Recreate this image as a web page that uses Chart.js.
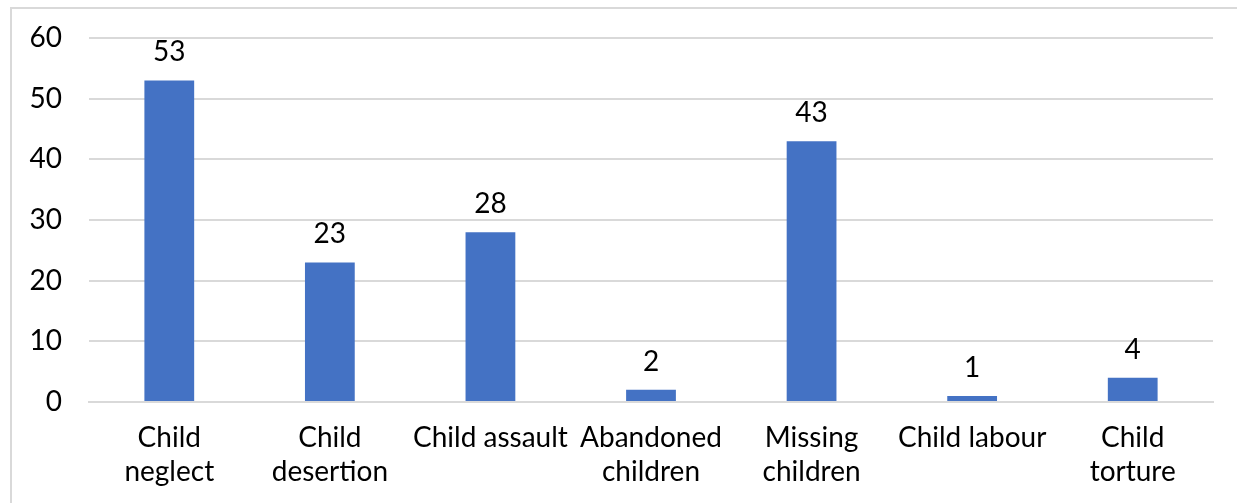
<!DOCTYPE html>
<html>
<head>
<meta charset="utf-8">
<script src="https://cdn.jsdelivr.net/npm/chart.js@4/dist/chart.umd.min.js"></script>
<style>
  html, body { margin: 0; padding: 0; background: #fff; overflow: hidden; }
  #frame { position: absolute; left: 10px; top: 7px; width: 1240px; height: 510px;
           border: 2px solid #d9d9d9; box-sizing: border-box; }
  #wrap { position: absolute; left: 0; top: 0; width: 1237px; height: 503px; }
</style>
</head>
<body>
<div id="frame"></div>
<div id="wrap"><canvas id="myChart"></canvas></div>
<script>
const categories = [
    ["Child", "neglect"],
    ["Child", "desertion"],
    "Child assault",
    ["Abandoned", "children"],
    ["Missing", "children"],
    "Child labour",
    ["Child", "torture"]
];
const values = [53, 23, 28, 2, 43, 1, 4];
const yTicks = [0, 10, 20, 30, 40, 50, 60];

const FONT = "Lato, 'Noto Sans', sans-serif";

// draw value above each bar
const valueLabels = {
    id: 'valueLabels',
    afterDatasetsDraw(chart) {
        const ctx = chart.ctx;
        const meta = chart.getDatasetMeta(0);
        ctx.save();
        ctx.fillStyle = '#000';
        ctx.font = '28px ' + FONT;
        ctx.textAlign = 'center';
        ctx.textBaseline = 'alphabetic';
        meta.data.forEach((bar, i) => {
            ctx.fillText(values[i], bar.x, bar.y - 19);
        });
        ctx.restore();
    }
};

var ctx = document.getElementById('myChart').getContext('2d');
var chart = new Chart(ctx, {
    type: 'bar',
    data: {
        labels: categories,
        datasets: [{
            data: values,
            backgroundColor: '#4472c4',
            categoryPercentage: 1.0,
            barPercentage: 0.31
        }]
    },
    options: {
        responsive: true,
        maintainAspectRatio: false,
        animation: false,
        layout: { padding: { top: 38, right: 24, left: 0, bottom: 0 } },
        plugins: { legend: { display: false }, tooltip: { enabled: false } },
        scales: {
            x: {
                grid: { display: false, drawTicks: false },
                border: { display: true, color: '#d9d9d9', width: 2 },
                ticks: {
                    color: '#000',
                    font: { family: FONT, size: 28, lineHeight: 1.22 },
                    padding: 19,
                    maxRotation: 0,
                    autoSkip: false
                },
                afterFit(scale) { scale.height = 101; }
            },
            y: {
                min: 0,
                max: 60,
                afterBuildTicks(scale) { scale.ticks = yTicks.map(v => ({ value: v })); },
                grid: { color: '#d9d9d9', lineWidth: 2, drawTicks: false },
                border: { display: false },
                ticks: {
                    color: '#000',
                    font: { family: FONT, size: 28 },
                    padding: 27
                },
                afterFit(scale) {
                    scale.width = 89;
                    scale.paddingTop = 0;
                    scale.paddingBottom = 0;
                }
            }
        }
    },
    plugins: [valueLabels]
});
</script>
</body>
</html>
